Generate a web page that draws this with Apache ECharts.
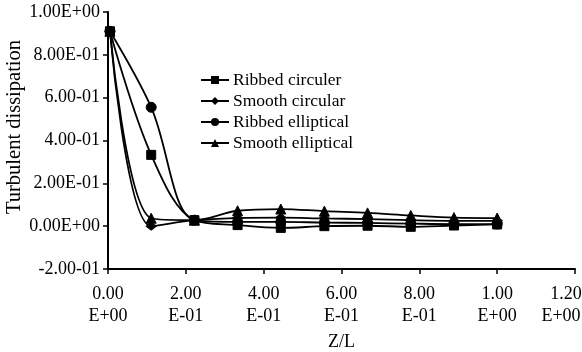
<!DOCTYPE html>
<html>
<head>
<meta charset="utf-8">
<script src="https://cdn.jsdelivr.net/npm/echarts@6/dist/echarts.min.js"></script>
<style>
  html, body { margin: 0; padding: 0; background: #fff; }
  #chart { width: 582px; height: 352px; }
</style>
</head>
<body>
<div id="chart"></div>
<script>
// Axial position along the duct
const zOverL = [0.005, 0.111, 0.222, 0.333, 0.444, 0.556, 0.667, 0.778, 0.889, 1.0];

// Turbulent dissipation for each configuration
const ribbedCirculer   = [0.91, 0.333, 0.028, 0.005, -0.008, 0.000, 0.002, -0.003, 0.003, 0.008];
const smoothCircular   = [0.91, 0.000, 0.028, 0.038, 0.040, 0.036, 0.033, 0.028, 0.025, 0.025];
const ribbedElliptical = [0.91, 0.555, 0.028, 0.020, 0.020, 0.017, 0.015, 0.012, 0.010, 0.010];
const smoothElliptical = [0.91, 0.037, 0.028, 0.072, 0.080, 0.070, 0.062, 0.050, 0.040, 0.038];

// Tick labels as printed on each axis
const yTickLabels = ['-2.00-01', '0.00E+00', '2.00E-01', '4.00-01', '6.00-01', '8.00E-01', '1.00E+00'];
const xTickTop    = ['0.00', '2.00', '4.00', '6.00', '8.00', '1.00', '1.20'];
const xTickBottom = ['E+00', 'E-01', 'E-01', 'E-01', 'E-01', 'E+00', 'E+00'];

const seriesNames = ['Ribbed circuler', 'Smooth circular', 'Ribbed elliptical', 'Smooth elliptical'];
const seriesValues = [ribbedCirculer, smoothCircular, ribbedElliptical, smoothElliptical];
const seriesSymbols = [['rect', 9], ['diamond', [10, 8]], ['circle', 10], ['triangle', 10]];

const FONT = '"Liberation Serif", "Times New Roman", serif';

function pairs(values) {
  return values.map((v, i) => [zOverL[i], v]);
}

// Two-line x tick label; the last one is nudged inward so it stays on the canvas
function xLabel(v) {
  const i = Math.round(v / 0.2);
  if (i === xTickTop.length - 1) {
    return '{endTop|' + xTickTop[i] + '}\n{endBottom|' + xTickBottom[i] + '}';
  }
  return xTickTop[i] + '\n' + xTickBottom[i];
}

const chart = echarts.init(document.getElementById('chart'), null, { renderer: 'canvas' });

chart.setOption({
  backgroundColor: '#fff',
  animation: false,
  textStyle: { fontFamily: FONT, color: '#000' },
  grid: { left: 108, right: 7, top: 12, bottom: 83, containLabel: false, outerBoundsMode: 'none' },
  legend: {
    orient: 'vertical',
    left: 200,
    top: 71,
    padding: 0,
    itemWidth: 28,
    itemHeight: 10,
    itemGap: 3,
    data: seriesNames,
    textStyle: { fontFamily: FONT, fontSize: 17.5, color: '#000', padding: [0, 0, 0, -1] }
  },
  xAxis: {
    type: 'value',
    min: 0,
    max: 1.2,
    interval: 0.2,
    name: 'Z/L',
    nameLocation: 'middle',
    nameGap: 64,
    nameTextStyle: { fontFamily: FONT, fontSize: 18, color: '#000' },
    axisLine: { onZero: false, lineStyle: { color: '#000', width: 2 } },
    axisTick: { show: true, length: 5, lineStyle: { color: '#000', width: 1.5 } },
    splitLine: { show: false },
    axisLabel: {
      margin: 14,
      fontFamily: FONT,
      fontSize: 18,
      color: '#000',
      lineHeight: 22,
      formatter: xLabel,
      rich: {
        endTop: { fontFamily: FONT, fontSize: 18, lineHeight: 22, color: '#000', padding: [0, 18, 0, 0] },
        endBottom: { fontFamily: FONT, fontSize: 18, lineHeight: 22, color: '#000', padding: [0, 28, 0, 0] }
      }
    }
  },
  yAxis: {
    type: 'value',
    min: -0.2,
    max: 1.0,
    interval: 0.2,
    axisLine: { show: true, lineStyle: { color: '#000', width: 2 } },
    axisTick: { show: true, length: 5, lineStyle: { color: '#000', width: 1.5 } },
    splitLine: { show: false },
    axisLabel: {
      margin: 8,
      fontFamily: FONT,
      fontSize: 18,
      color: '#000',
      formatter: (v) => yTickLabels[Math.round((v + 0.2) / 0.2)]
    }
  },
  graphic: [{
    type: 'text',
    x: 15,
    y: 127,
    rotation: Math.PI / 2,
    style: {
      text: 'Turbulent dissipation',
      fontFamily: FONT,
      fontSize: 20.5,
      fill: '#000',
      align: 'center',
      verticalAlign: 'middle'
    }
  }],
  series: seriesNames.map((name, i) => ({
    name: name,
    type: 'line',
    data: pairs(seriesValues[i]),
    smooth: 0.35,
    symbol: seriesSymbols[i][0],
    symbolSize: seriesSymbols[i][1],
    showAllSymbol: true,
    clip: false,
    lineStyle: { color: '#000', width: 1.8 },
    itemStyle: { color: '#000', borderColor: '#000' }
  }))
});
</script>
</body>
</html>
